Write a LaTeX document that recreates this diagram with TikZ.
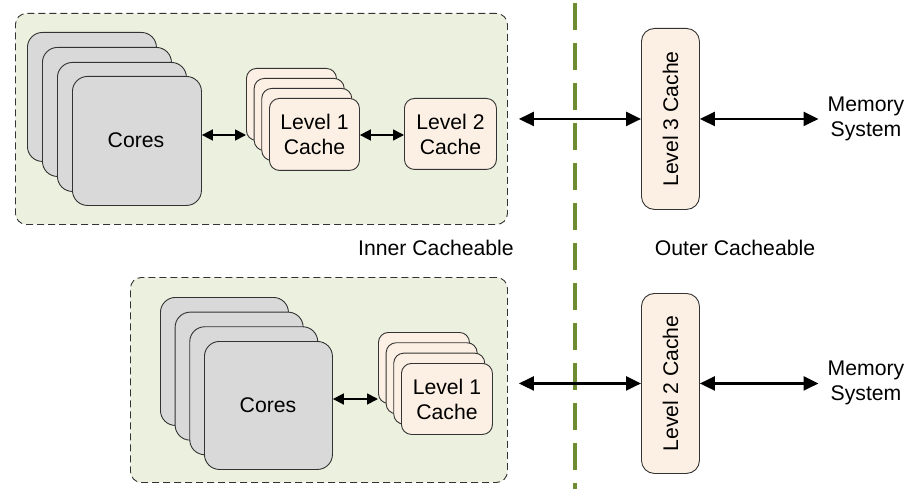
\documentclass[tikz,border=0pt]{standalone}
\usepackage{fontspec}
\setmainfont{Liberation Sans}
\usetikzlibrary{arrows.meta}
\definecolor{grpfill}{RGB}{235,241,222}
\definecolor{corefill}{RGB}{217,217,217}
\definecolor{cachefill}{RGB}{252,239,227}
\definecolor{edge}{RGB}{51,51,51}
\definecolor{divider}{RGB}{110,140,50}
\tikzset{
  grp/.style={draw=edge, fill=grpfill, dashed, dash pattern=on 7pt off 4pt, line width=0.9pt, rounded corners=11pt, anchor=north west, inner sep=0pt},
  corecard/.style={draw=edge, fill=corefill, line width=0.9pt, rounded corners=15pt, minimum width=129pt, minimum height=129pt, anchor=north west, inner sep=0pt},
  cachecard/.style={draw=edge, fill=cachefill, line width=0.9pt, rounded corners=10pt, minimum width=90pt, minimum height=72pt, anchor=north west, inner sep=0pt, align=center},
  tallbox/.style={draw=edge, fill=cachefill, line width=0.9pt, rounded corners=13pt, minimum width=58pt, minimum height=181pt, anchor=north west, inner sep=0pt},
  lbl/.style={font=\fontsize{21.2}{25}\selectfont, align=center, inner sep=0pt},
  bigarr/.style={line width=2.4pt, {Triangle[length=15pt,width=14pt]}-{Triangle[length=15pt,width=14pt]}},
  smallarr/.style={line width=1.7pt, {Triangle[length=11pt,width=11pt]}-{Triangle[length=11pt,width=11pt]}},
}
\begin{document}
\begin{tikzpicture}[x=1pt,y=-1pt, every node/.append style={font=\fontsize{21.2}{25}\selectfont}]
\useasboundingbox (0,0) rectangle (920,489);
% divider
\draw[divider, line width=3.2pt, dash pattern=on 27pt off 13pt] (575,3) coordinate (dtop) -- (575,489) coordinate (dbot);

% ---------- top group ----------
\node[grp, minimum width=492pt, minimum height=211pt] (tgrp) at (15,13) {};
\node[corecard] (tc1) at (27,32) {};
\node[corecard] (tc2) at (42,47) {};
\node[corecard] (tc3) at (57,62) {};
\node[corecard] (tc4) at (72,76) {};
\node[lbl] (tcores) at (136,140) {Cores};
\node[cachecard] (tl1a) at (246,68) {};
\node[cachecard] (tl1b) at (253.7,78) {};
\node[cachecard] (tl1c) at (261.3,88) {};
\node[cachecard, lbl, minimum width=90pt, minimum height=72pt, anchor=north west] (tl1d) at (269,98) {Level 1\\Cache};
\node[cachecard, lbl, minimum width=92pt, minimum height=71pt, anchor=north west] (tl2) at (404,98) {Level 2\\Cache};
\draw[smallarr] (tc4.east |- 0,135) -- (tl1a.west |- 0,135);
\draw[smallarr] (tl1d.east |- 0,135) -- (tl2.west |- 0,135);

\node[tallbox] (l3) at (641,28) {};
\node[lbl, rotate=90] (l3t) at (l3.center) {Level 3 Cache};
\node[lbl] (mem1) at (866,119) {Memory\\System};
\draw[bigarr] ([xshift=11pt]tgrp.east |- l3.west) -- (l3.west);
\draw[bigarr] (l3.east) -- ([xshift=-9pt]mem1.west |- l3.east);

\node[lbl] (inner) at (436,248) {Inner Cacheable};
\node[lbl] (outer) at (735,248) {Outer Cacheable};

% ---------- bottom group ----------
\node[grp, minimum width=377pt, minimum height=205pt] (bgrp) at (130,277) {};
\node[corecard, minimum width=128pt, minimum height=128pt] (bc1) at (160,297) {};
\node[corecard, minimum width=128pt, minimum height=128pt] (bc2) at (174.7,311.7) {};
\node[corecard, minimum width=128pt, minimum height=128pt] (bc3) at (189.3,326.3) {};
\node[corecard, minimum width=128pt, minimum height=128pt] (bc4) at (204,341) {};
\node[lbl] (bcores) at (268,405) {Cores};
\node[cachecard, minimum width=91pt, minimum height=71pt] (bl1a) at (378,332) {};
\node[cachecard, minimum width=91pt, minimum height=71pt] (bl1b) at (385.7,342.3) {};
\node[cachecard, minimum width=91pt, minimum height=71pt] (bl1c) at (393.3,352.7) {};
\node[cachecard, lbl, minimum width=91pt, minimum height=71pt, anchor=north west] (bl1d) at (401,363) {Level 1\\Cache};
\draw[smallarr] (bc4.east |- 0,399) -- (bl1a.west |- 0,399);

\node[tallbox, minimum height=180pt] (l2b) at (641,293) {};
\node[lbl, rotate=90] (l2bt) at (l2b.center) {Level 2 Cache};
\node[lbl] (mem2) at (866,383) {Memory\\System};
\draw[bigarr] ([xshift=11pt]bgrp.east |- l2b.west) -- (l2b.west);
\draw[bigarr] (l2b.east) -- ([xshift=-9pt]mem2.west |- l2b.east);
\end{tikzpicture}
\end{document}
